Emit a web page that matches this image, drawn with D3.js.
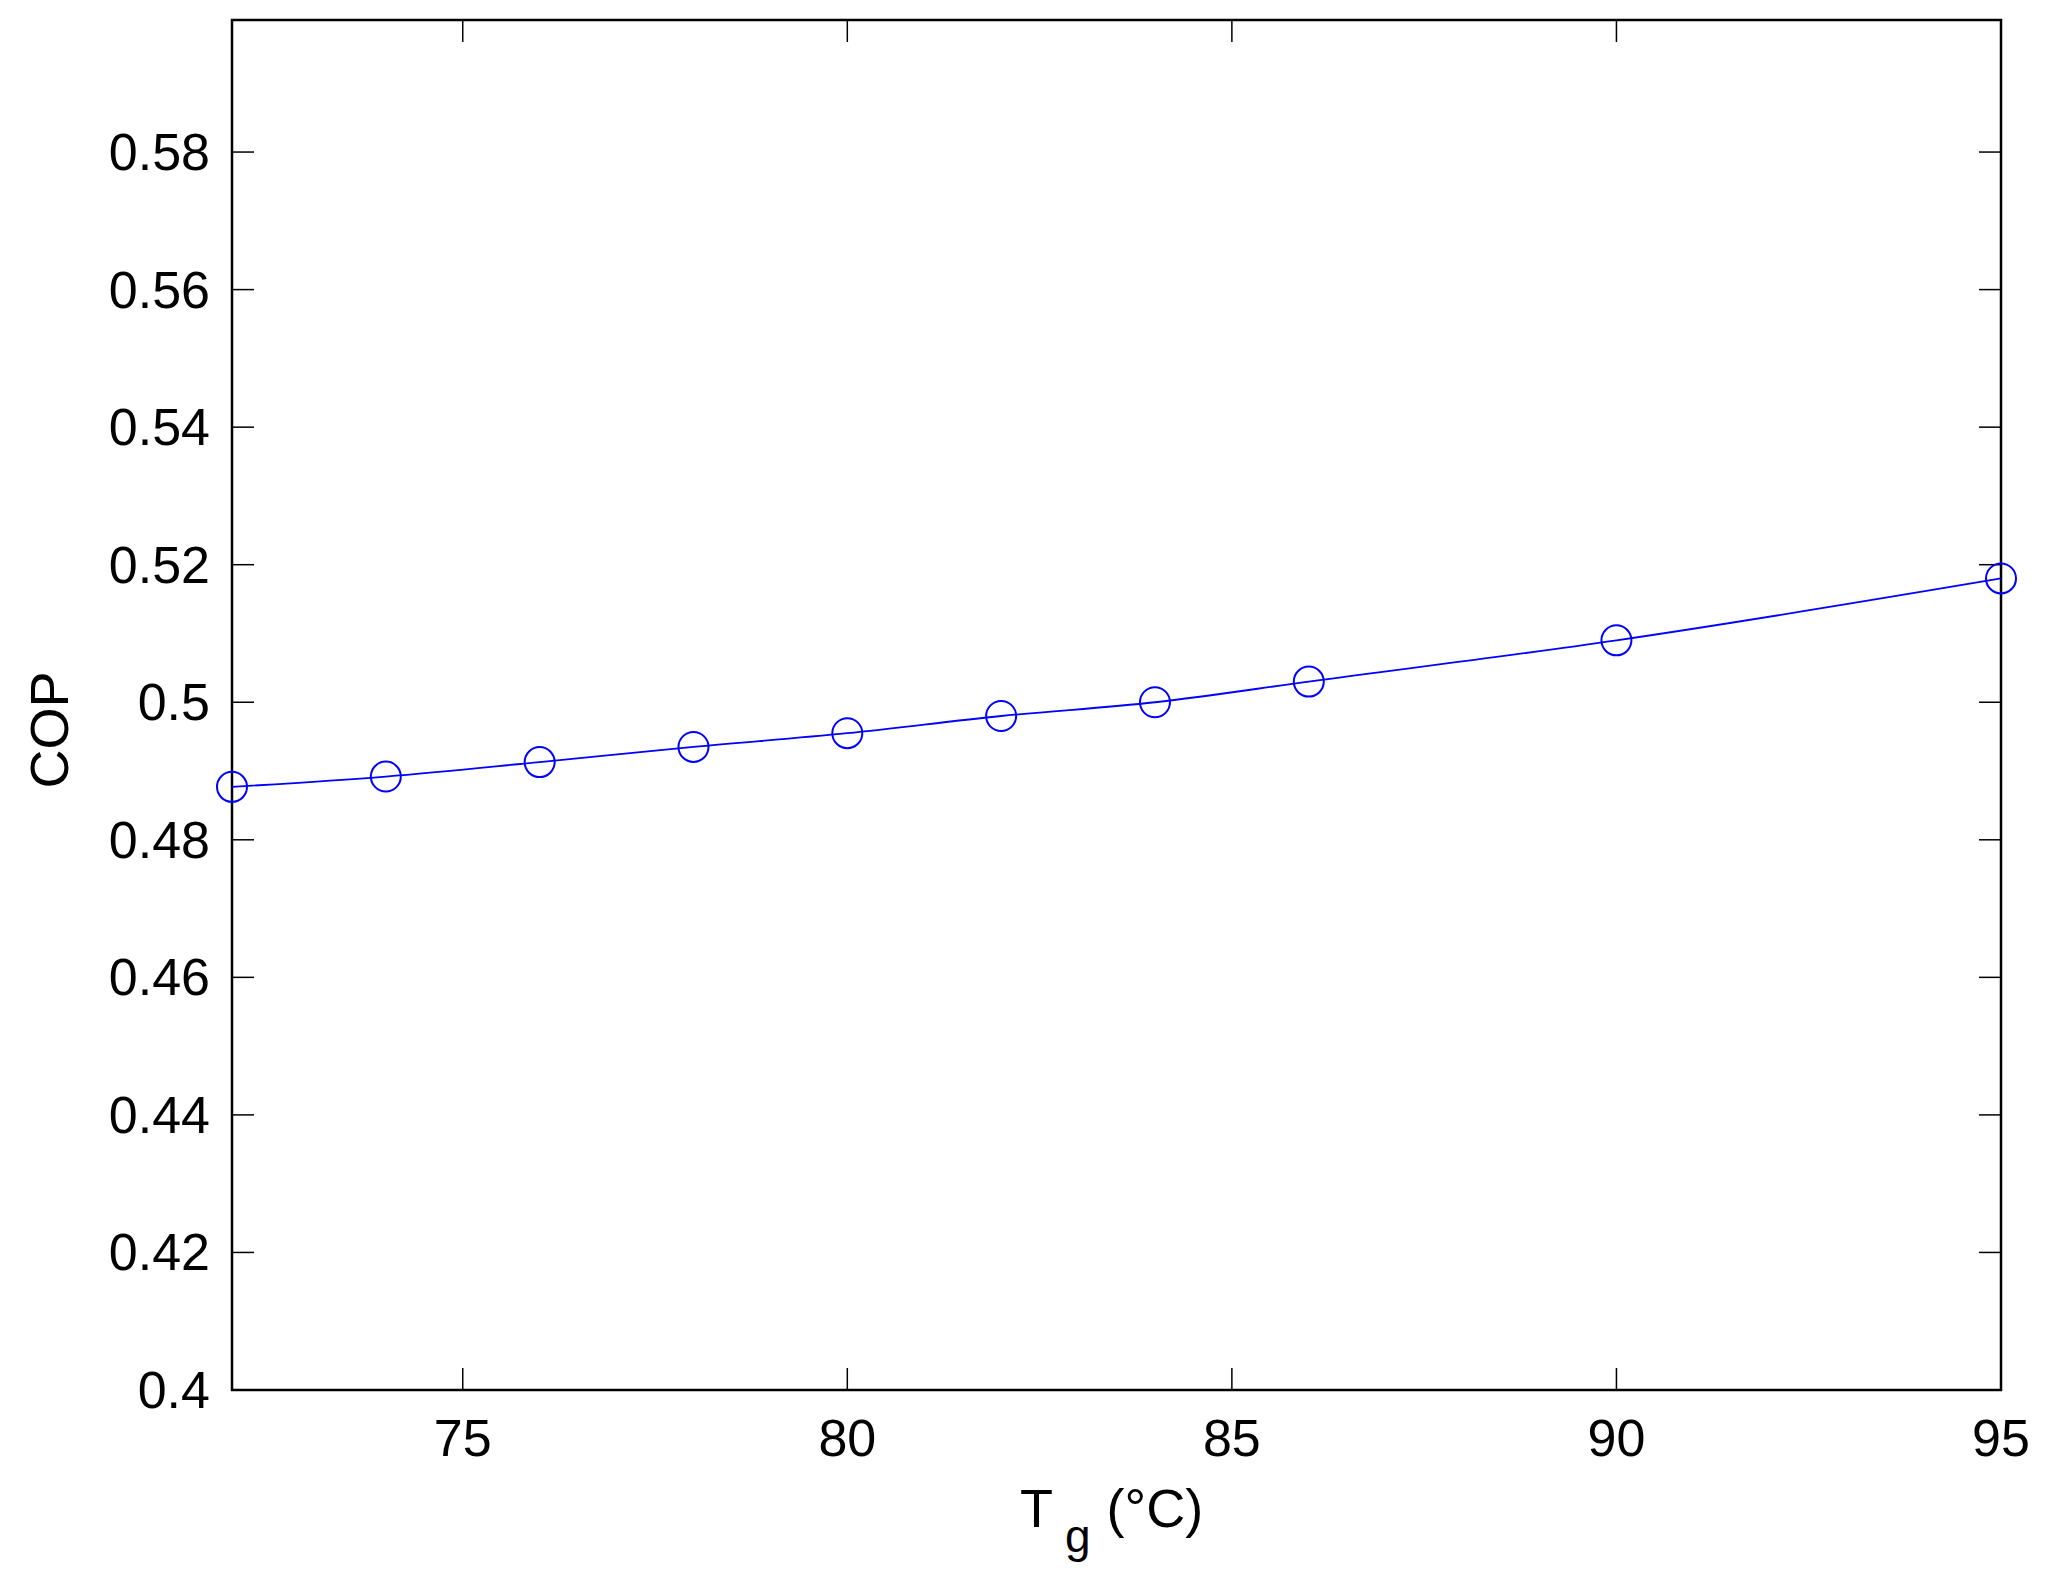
<!DOCTYPE html><html><head><script src="https://cdn.jsdelivr.net/npm/d3@7"></script>
<style>body{margin:0;background:#fff}</style></head><body><script>
const temps=[72,74,76,78,80,82,84,86,90,95];
const cop=[0.4877,0.4892,0.4913,0.4935,0.4955,0.4980,0.5000,0.5030,0.5090,0.5180];
const xTicks=[75,80,85,90,95];
const yTicks=[0.4,0.42,0.44,0.46,0.48,0.5,0.52,0.54,0.56,0.58];
const W=2051,H=1588,L=232,R=2001,T=20,B=1390;
const svg=d3.select("body").append("svg").attr("width",W).attr("height",H).style("font-family","Liberation Sans, Arial");
const x=d3.scaleLinear().domain([72,95]).range([L,R]);
const y=d3.scaleLinear().domain([0.4,0.5992]).range([B,T]);
svg.append("rect").attr("x",L).attr("y",T).attr("width",R-L).attr("height",B-T).attr("fill","none").attr("stroke","#000").attr("stroke-width",2.5);
const tl=22;
xTicks.forEach(v=>{svg.append("line").attr("x1",x(v)).attr("x2",x(v)).attr("y1",B).attr("y2",B-tl).attr("stroke","#000").attr("stroke-width",1.5);
svg.append("line").attr("x1",x(v)).attr("x2",x(v)).attr("y1",T).attr("y2",T+tl).attr("stroke","#000").attr("stroke-width",1.5);
svg.append("text").attr("x",x(v)).attr("y",1456).attr("text-anchor","middle").attr("font-size",52).text(v);});
yTicks.forEach(v=>{svg.append("line").attr("x1",L).attr("x2",L+tl).attr("y1",y(v)).attr("y2",y(v)).attr("stroke","#000").attr("stroke-width",1.5);
svg.append("line").attr("x1",R).attr("x2",R-tl).attr("y1",y(v)).attr("y2",y(v)).attr("stroke","#000").attr("stroke-width",1.5);
svg.append("text").attr("x",L-22).attr("y",y(v)+18).attr("text-anchor","end").attr("font-size",52).text(+v.toFixed(2));});
svg.append("path").datum(temps.map((t,i)=>[t,cop[i]])).attr("d",d3.line().x(d=>x(d[0])).y(d=>y(d[1])).curve(d3.curveMonotoneX)).attr("fill","none").attr("stroke","#0000ff").attr("stroke-width",1.8);
svg.selectAll("circle").data(temps).enter().append("circle").attr("cx",d=>x(d)).attr("cy",(d,i)=>y(cop[i])).attr("r",15).attr("fill","none").attr("stroke","#0000ff").attr("stroke-width",2);
const xl=svg.append("text").attr("x",1020).attr("y",1527).attr("font-size",54);
xl.append("tspan").text("T");xl.append("tspan").attr("dx",12).attr("dy",25).attr("font-size",46).text("g");xl.append("tspan").attr("dx",16).attr("dy",-25).text("(°C)");
svg.append("text").attr("transform",`translate(68,${(T+B)/2+25}) rotate(-90)`).attr("text-anchor","middle").attr("font-size",54).text("COP");
</script></body></html>
